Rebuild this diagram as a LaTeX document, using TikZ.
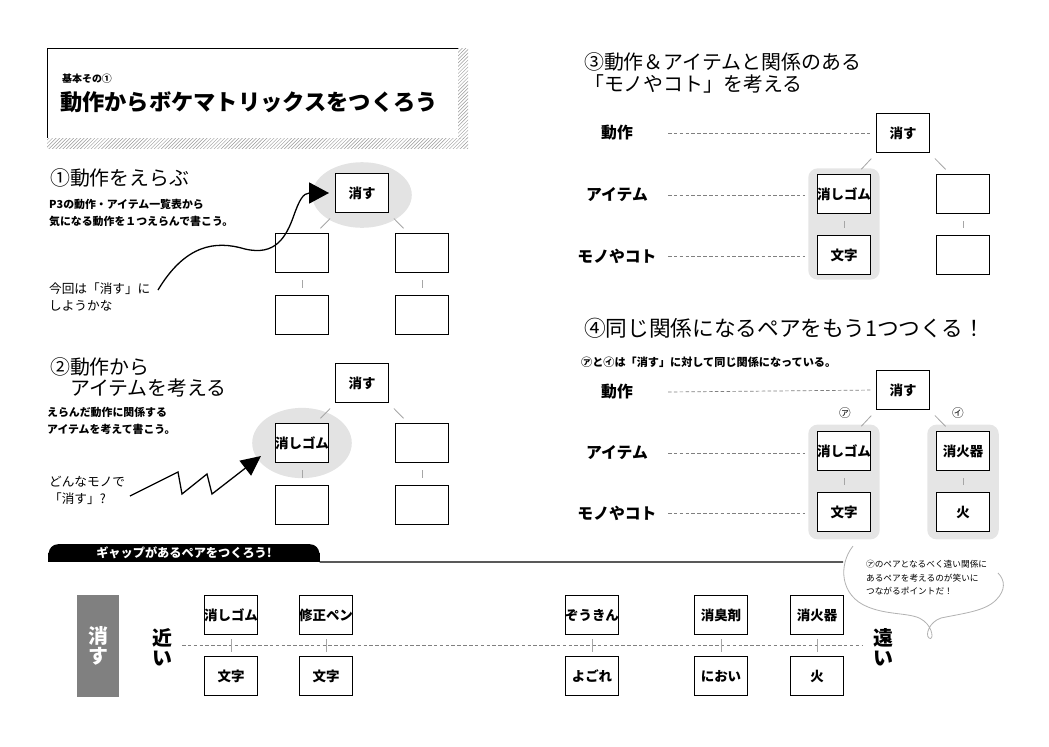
\documentclass[tikz,border=0pt]{standalone}
\usepackage{fontspec}
\setmainfont{Noto Sans CJK JP}
\usetikzlibrary{shapes.geometric,arrows.meta,patterns}

\begin{document}
\begin{tikzpicture}[x=0.03cm, y=-0.03cm,
  box/.style={draw, line width=0.9pt, fill=white, minimum width=45pt, minimum height=34pt, inner sep=0pt, font=\bfseries\fontsize{11.5}{12}\selectfont},
  stub/.style={draw=gray!70, line width=0.7pt},
  hilite/.style={ellipse, fill=gray!22, draw=none, minimum width=85pt},
  band/.style={rectangle, rounded corners=8pt, fill=gray!20, draw=none, minimum width=61pt},
  head/.style={anchor=west, font=\fontsize{17}{20}\selectfont},
  note/.style={anchor=west, align=left, font=\bfseries\fontsize{9.3}{14.5}\selectfont},
  say/.style={anchor=west, align=left, font=\fontsize{10.8}{14.5}\selectfont},
  rowlabel/.style={font=\bfseries\fontsize{13.5}{14}\selectfont},
  dashline/.style={draw=gray, line width=0.6pt, dash pattern=on 3pt off 2pt},
  bigword/.style={align=center, font=\bfseries\fontsize{17}{17}\selectfont}]
\useasboundingbox (0,0) rectangle (1049,746);

%% Title block
\fill[pattern=north east lines, pattern color=gray!80] (47,138) rectangle (468,148);
\fill[pattern=north east lines, pattern color=gray!80] (458,48) rectangle (468,138);
\draw[line width=0.8pt] (458,48) -- (47,48) -- (47,138);
\node[anchor=west, font=\bfseries\fontsize{8.5}{9}\selectfont] (kihon) at (58,79) {基本その①};
\node[anchor=west, font=\bfseries\fontsize{19}{20}\selectfont] (title) at (56,102) {動作からボケマトリックスをつくろう};

%% Step 1
\node[head] (h1) at (46,178) {①動作をえらぶ};
\node[note] (n1) at (45,213) {P3の動作・アイテム一覧表から\\気になる動作を１つえらんで書こう。};
\node[say] (s1) at (45,297) {今回は「消す」に\\しようかな};
\node[hilite, minimum height=56pt] (e1) at (362,195) {};
\node[box] (t1top) at (362,193) {消す};
\node[box] (t1a) at (302,253) {};
\node[box] (t1b) at (422,253) {};
\node[box] (t1c) at (302,315) {};
\node[box] (t1d) at (422,315) {};
\draw[stub, shorten <=6pt, shorten >=5pt] (t1top.south west) -- (t1a.55);
\draw[stub, shorten <=6pt, shorten >=5pt] (t1top.south east) -- (t1b.125);
\draw[stub, shorten <=6pt, shorten >=6pt] (t1a.south) -- (t1c.north);
\draw[stub, shorten <=6pt, shorten >=6pt] (t1b.south) -- (t1d.north);
\coordinate (a1tail) at (158,290);
\coordinate (a1tip) at (329,193);
\draw[line width=1.1pt, -{Triangle[length=17pt, width=18pt]}] (a1tail) .. controls (185,245) and (215,240) .. (245,249) .. controls (275,256) and (286,238) .. (294,215) .. controls (299,201) and (303,193) .. (a1tip);

%% Step 2
\node[head] (h2a) at (46,367) {②動作から};
\node[head] (h2b) at (66,388) {アイテムを考える};
\node[note] (n2) at (43,421) {えらんだ動作に関係する\\アイテムを考えて書こう。};
\node[say] (s2) at (45,490) {どんなモノで\\「消す」?};
\node[hilite, minimum height=60pt] (e2) at (302,443) {};
\node[box] (t2top) at (362,383) {消す};
\node[box] (t2a) at (302,443) {\makebox[0pt]{消しゴム}};
\node[box] (t2b) at (422,443) {};
\node[box] (t2c) at (302,505) {};
\node[box] (t2d) at (422,505) {};
\draw[stub, shorten <=6pt, shorten >=5pt] (t2top.south west) -- (t2a.55);
\draw[stub, shorten <=6pt, shorten >=5pt] (t2top.south east) -- (t2b.125);
\draw[stub, shorten <=6pt, shorten >=6pt] (t2a.south) -- (t2c.north);
\draw[stub, shorten <=6pt, shorten >=6pt] (t2b.south) -- (t2d.north);
\coordinate (a2tail) at (130,496);
\coordinate (a2tip) at (261,456);
\draw[line width=1.1pt, -{Triangle[length=17pt, width=16pt]}] (a2tail) -- (178,472) -- (182,494) -- (207,474) -- (212,494) -- (a2tip);

%% Step 3
\node[head] (h3a) at (580,62) {③動作＆アイテムと関係のある};
\node[head] (h3b) at (580,84) {「モノやコト」を考える};
\node[rowlabel] (r3a) at (617,133) {動作};
\node[rowlabel] (r3b) at (617,195) {アイテム};
\node[rowlabel] (r3c) at (617,256) {モノやコト};
\node[band, minimum height=95pt] (g3) at (844,224) {};
\node[box] (b3top) at (903,133) {消す};
\node[box] (b3a) at (844,194) {\makebox[0pt]{消しゴム}};
\node[box] (b3b) at (963,194) {};
\node[box] (b3c) at (844,255) {文字};
\node[box] (b3d) at (963,255) {};
\draw[stub, shorten <=6pt, shorten >=5pt] (b3top.south west) -- (b3a.57);
\draw[stub, shorten <=6pt, shorten >=5pt] (b3top.south east) -- (b3b.123);
\draw[stub, shorten <=6pt, shorten >=6pt] (b3a.south) -- (b3c.north);
\draw[stub, shorten <=6pt, shorten >=6pt] (b3b.south) -- (b3d.north);
\coordinate (d3a) at (668,133);
\coordinate (d3b) at (668,195);
\coordinate (d3c) at (668,256);
\draw[dashline, shorten >=5pt] (d3a) -- (b3top.west);
\draw[dashline, shorten >=3pt] (d3b) -- (d3b -| g3.west);
\draw[dashline, shorten >=3pt] (d3c) -- (d3c -| g3.west);

%% Step 4
\node[head, font=\fontsize{18.5}{20}\selectfont] (h4) at (580,328) {④同じ関係になるペアをもう1つつくる！};
\node[anchor=west, font=\bfseries\fontsize{9.5}{10}\selectfont] (n4) at (577,362) {㋐と㋑は「消す」に対して同じ関係になっている。};
\node[rowlabel] (r4a) at (617,392) {動作};
\node[rowlabel] (r4b) at (617,453) {アイテム};
\node[rowlabel] (r4c) at (617,513) {モノやコト};
\node[band, minimum height=98pt] (g4l) at (844,482) {};
\node[band, minimum height=98pt] (g4r) at (963,482) {};
\node[box] (b4top) at (903,390) {消す};
\node[box] (b4a) at (844,451) {\makebox[0pt]{消しゴム}};
\node[box] (b4b) at (963,451) {消火器};
\node[box] (b4c) at (844,512) {文字};
\node[box] (b4d) at (963,512) {火};
\node[font=\fontsize{10}{10}\selectfont] (ma) at (845,413) {㋐};
\node[font=\fontsize{10}{10}\selectfont] (mi) at (958,413) {㋑};
\draw[stub, shorten <=6pt, shorten >=5pt] (b4top.south west) -- (b4a.57);
\draw[stub, shorten <=6pt, shorten >=5pt] (b4top.south east) -- (b4b.123);
\draw[stub, shorten <=6pt, shorten >=6pt] (b4a.south) -- (b4c.north);
\draw[stub, shorten <=6pt, shorten >=6pt] (b4b.south) -- (b4d.north);
\coordinate (d4a) at (668,392);
\coordinate (d4b) at (668,453);
\coordinate (d4c) at (668,513);
\draw[dashline, shorten >=5pt] (d4a) -- (b4top.west);
\draw[dashline, shorten >=3pt] (d4b) -- (d4b -| g4l.west);
\draw[dashline, shorten >=3pt] (d4c) -- (d4c -| g4l.west);

%% Gap pairs
\node[fill=black, rounded corners=8pt, minimum width=231pt, minimum height=15pt, inner sep=0pt] (tab) at (184,553) {};
\fill[black] (tab.west) rectangle (tab.south east);
\node[text=white, font=\bfseries\fontsize{10.4}{11}\selectfont] (tabtxt) at (184,553) {ギャップがあるペアをつくろう!};
\coordinate (ruleend) at (843,562);
\draw[line width=1pt] (tab.south east) -- (ruleend);
\node[fill=gray, minimum width=35pt, minimum height=87pt, text=white, bigword] (kesu) at (98,646) {消\\す};
\node[bigword] (chika) at (162,647) {近\\い};
\node[bigword] (toi) at (883,647) {遠\\い};
\coordinate (dl) at (182,645);
\coordinate (dr) at (863,645);
\draw[dashline] (dl) -- (dr);
\node[box] (p1a) at (231,615) {\makebox[0pt]{消しゴム}};
\node[box] (p1b) at (231,676) {文字};
\node[box] (p2a) at (326,615) {\makebox[0pt]{修正ペン}};
\node[box] (p2b) at (326,676) {文字};
\node[box] (p3a) at (592,615) {\makebox[0pt]{ぞうきん}};
\node[box] (p3b) at (592,676) {よごれ};
\node[box] (p4a) at (721,615) {消臭剤};
\node[box] (p4b) at (721,676) {におい};
\node[box] (p5a) at (817,615) {消火器};
\node[box] (p5b) at (817,676) {火};
\draw[stub, shorten <=3pt, shorten >=3pt] (p1a.south) -- (p1b.north);
\draw[stub, shorten <=3pt, shorten >=3pt] (p2a.south) -- (p2b.north);
\draw[stub, shorten <=3pt, shorten >=3pt] (p3a.south) -- (p3b.north);
\draw[stub, shorten <=3pt, shorten >=3pt] (p4a.south) -- (p4b.north);
\draw[stub, shorten <=3pt, shorten >=3pt] (p5a.south) -- (p5b.north);

%% Speech bubble
\draw[gray!60, line width=0.7pt] (853,546) .. controls (838,565) and (840,596) .. (868,607) .. controls (890,616) and (914,612) .. (924,621) .. controls (933,628) and (934,641) .. (929,638) .. controls (925,635) and (929,622) .. (941,618) .. controls (965,613) and (985,611) .. (996,600) .. controls (1006,590) and (1005,580) .. (998,573);
\node[anchor=west, align=left, font=\fontsize{7.4}{11.5}\selectfont] (bubtxt) at (862,578) {㋐のペアとなるべく遠い関係に\\あるペアを考えるのが笑いに\\つながるポイントだ！};
\end{tikzpicture}
\end{document}
